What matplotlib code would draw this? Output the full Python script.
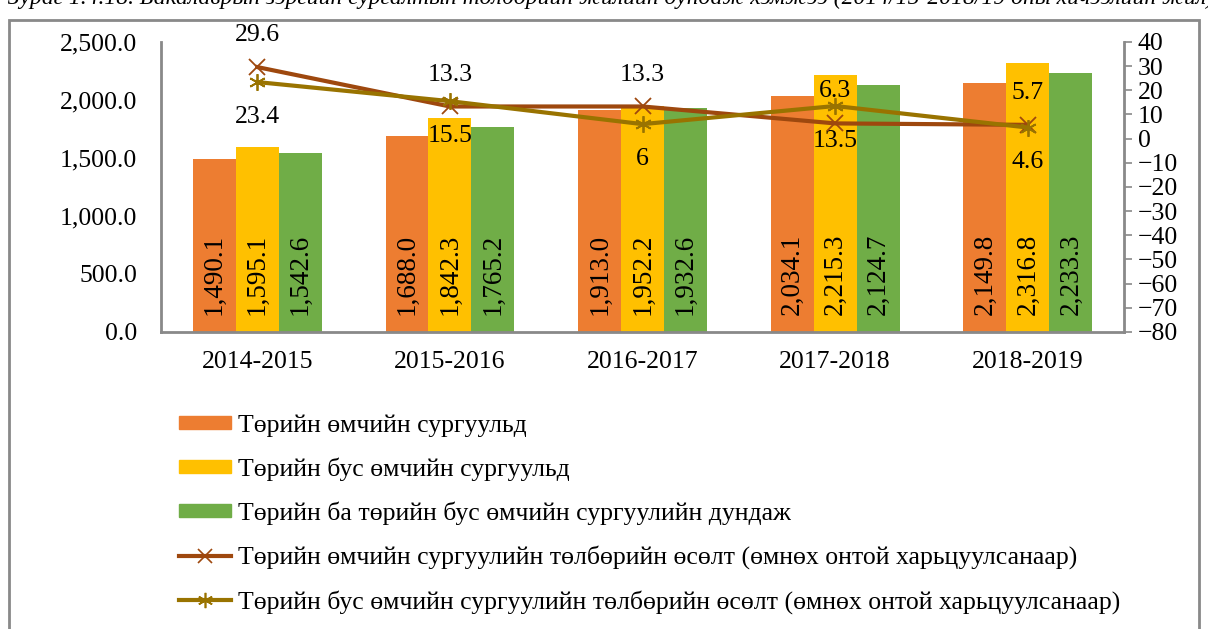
import numpy as np
import matplotlib
matplotlib.use('Agg')
import matplotlib.pyplot as plt
from matplotlib.lines import Line2D
from matplotlib.patches import Patch, Rectangle

''' data: average annual tuition (thous. MNT) and growth (%) '''
years = ['2014-2015', '2015-2016', '2016-2017', '2017-2018', '2018-2019']
state_fee   = [1490.1, 1688.0, 1913.0, 2034.1, 2149.8]
private_fee = [1595.1, 1842.3, 1952.2, 2215.3, 2316.8]
average_fee = [1542.6, 1765.2, 1932.6, 2124.7, 2233.3]
state_growth   = [29.6, 13.3, 13.3, 6.3, 5.7]
private_growth = [23.4, 15.5, 6, 13.5, 4.6]

labels = ['Төрийн өмчийн сургуульд',
          'Төрийн бус өмчийн сургуульд',
          'Төрийн ба төрийн бус өмчийн сургуулийн дундаж',
          'Төрийн өмчийн сургуулийн төлбөрийн өсөлт (өмнөх онтой харьцуулсанаар)',
          'Төрийн бус өмчийн сургуулийн төлбөрийн өсөлт (өмнөх онтой харьцуулсанаар)']
caption = ('Зураг 1.4.18. Бакалаврын зэргийн сургалтын төлбөрийн жилийн дундаж хэмжээ '
           '(2014/15-2018/19 оны хичээлийн жил)')

c_state, c_priv, c_avg = '#ED7D31', '#FFC000', '#70AD47'
c_line1, c_line2 = '#9E480E', '#997300'
grey = '#898989'
fs = 18.5

plt.rcParams['font.family'] = ['Liberation Serif', 'DejaVu Serif']

fig = plt.figure(figsize=(12.08, 6.29), dpi=100)
ax = fig.add_axes([0.1333, 0.4722, 0.7972, 0.4611])
ax2 = ax.twinx()

x = np.arange(len(years))
w = 0.223
for off, vals, col in [(-w, state_fee, c_state), (0, private_fee, c_priv), (w, average_fee, c_avg)]:
    bars = ax.bar(x + off, vals, w, color=col, zorder=2)
    for b, v in zip(bars, vals):
        ax.text(b.get_x() + w / 2, 150, f'{v:,.1f}', rotation=90, ha='center', va='bottom',
                fontsize=19.5, zorder=3)

ax.set_xlim(-0.5, 4.5)
ax.set_ylim(0, 2500)
ax.set_yticks(np.arange(0, 2501, 500))
ax.set_yticklabels([f'{v:,.1f}' for v in np.arange(0, 2501, 500)])
ax.set_xticks(x)
ax.set_xticklabels(years)
ax.tick_params(axis='both', labelsize=fs, length=0)
ax.tick_params(axis='y', pad=17)
ax.tick_params(axis='x', pad=14)

ax2.plot(x, state_growth, color=c_line1, lw=3, marker='x', ms=11, mew=1.3, zorder=5)
ax2.plot(x, private_growth, color=c_line2, lw=3, marker=(6, 2, 0), ms=12, mew=1.3, zorder=5)
for xi, v in zip(x, state_growth):
    ax2.annotate(f'{v:g}', (xi, v), xytext=(0, 23), textcoords='offset points',
                 ha='center', va='center', fontsize=fs)
for xi, v in zip(x, private_growth):
    ax2.annotate(f'{v:g}', (xi, v), xytext=(0, -25), textcoords='offset points',
                 ha='center', va='center', fontsize=fs)
ax2.set_ylim(-80, 40)
ax2.set_yticks(np.arange(-80, 41, 10))
ax2.tick_params(axis='y', labelsize=fs, length=6, width=1.2, color=grey, direction='out', pad=4)

for a in (ax, ax2):
    for s in a.spines.values():
        s.set_visible(False)
ax.spines['left'].set_visible(True)
ax.spines['bottom'].set_visible(True)
ax2.spines['right'].set_visible(True)
for s in (ax.spines['left'], ax.spines['bottom'], ax2.spines['right']):
    s.set_color(grey)
    s.set_linewidth(2)
ax.set_zorder(1)
ax2.set_zorder(2)
ax.patch.set_visible(False)

''' legend '''
handles = [Patch(color=c_state), Patch(color=c_priv), Patch(color=c_avg),
           Line2D([], [], color=c_line1, lw=3, marker='x', ms=10, mew=1.2),
           Line2D([], [], color=c_line2, lw=3, marker=(6, 2, 0), ms=11, mew=1.2)]
fig.legend(handles, labels, loc='upper left', bbox_to_anchor=(0.14, 0.358), frameon=False,
           fontsize=fs, handlelength=2.0, handleheight=0.45, handletextpad=0.3,
           labelspacing=0.8, borderaxespad=0)

''' frame and cropped caption '''
fig.patches.append(Rectangle((9 / 1208, -0.05), 1190 / 1208, 1 - 20 / 629 + 0.05,
                             transform=fig.transFigure, fill=False, ec=grey, lw=2))
fig.text(8 / 1208, 1 - 4 / 629, caption, style='italic', fontsize=17, ha='left',
         va='baseline')

fig.savefig('out.png', dpi=100)
